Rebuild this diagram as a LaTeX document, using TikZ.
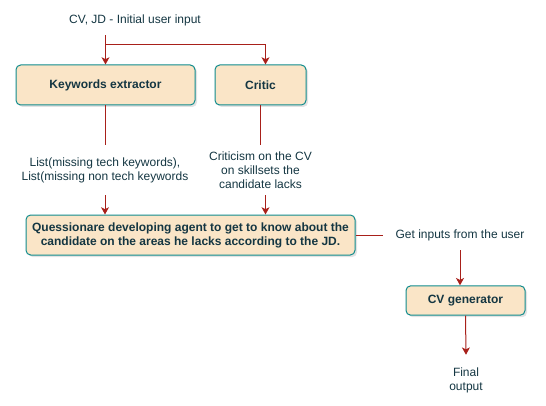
\documentclass[tikz,border=0pt]{standalone}
\usepackage{fontspec}
\setmainfont{Liberation Sans}
\usepackage{tikz}
\usetikzlibrary{
	positioning,
	arrows.meta,
	shadows
}
\definecolor{boxfill}{HTML}{FAE5C7}
\definecolor{boxline}{HTML}{0F8B8D}
\definecolor{txt}{HTML}{143642}
\definecolor{edge}{HTML}{A8201A}
\tikzset{
	agent/.style={draw=boxline, fill=boxfill, line width=0.75pt, rounded corners=3.5pt,
		font=\fontsize{9}{10.5}\selectfont\bfseries, text=txt, align=center,
		drop shadow={opacity=0.22, shadow xshift=1.5pt, shadow yshift=-1.5pt}},
	lbl/.style={font=\fontsize{9}{10.5}\selectfont, text=txt, align=center, inner sep=0pt},
	ln/.style={draw=edge, line width=0.75pt},
	arr/.style={ln, -{Stealth[width=6pt, length=5.5pt, inset=1.5pt]}}
}
\begin{document}
\begin{tikzpicture}[x=0.75pt, y=-0.75pt]
	\useasboundingbox (0,0) rectangle (546,406);

	\node[lbl, minimum height=22.5pt] (inp) at (135,20) {CV, JD - Initial user input};
	\node[agent, minimum width=134.25pt, minimum height=30pt] (kw) at (105.5,85) {Keywords extractor};
	\node[agent, minimum width=68.25pt, minimum height=30pt] (crit) at (260.5,85) {Critic};
	\node[lbl, minimum height=37.5pt] (kwlbl) at (105,170) {List(missing tech keywords),\\List(missing non tech keywords};
	\node[lbl, minimum height=37.5pt] (critlbl) at (260.5,170) {Criticism on the CV\\on skillsets the\\candidate lacks};
	\node[agent, minimum width=246.75pt, minimum height=30pt] (q) at (190.5,235)
		{Quessionare developing agent to get to know about the\\candidate on the areas he lacks according to the JD.};
	\node[lbl, minimum height=22.5pt, inner xsep=9pt] (getlbl) at (460,235) {Get inputs from the user};
	\node[agent, minimum width=89.25pt, minimum height=22pt] (cv) at (465.5,300.5) {CV generator};
	\node[lbl, minimum height=37.5pt] (fin) at (466,380) {Final\\output};

	\coordinate (br) at (105,45);
	\draw[arr] (inp.south -| kw.north) -- (kw.north);
	\draw[arr] (br) -| ([xshift=3.75pt]crit.north);
	\draw[ln] (kw.south) -- (kw.south |- kwlbl.north);
	\draw[arr] (kwlbl.south) -- (kwlbl.south |- q.north);
	\draw[ln] (crit.south) -- (crit.south |- critlbl.north);
	\draw[arr] ([xshift=3.75pt]critlbl.south) -- ([xshift=3.75pt]critlbl.south |- q.north);
	\draw[ln] (q.east) -- (getlbl.west);
	\draw[arr] (getlbl.south) -- (getlbl.south |- cv.north);
	\draw[arr] (cv.south) -- (fin.north);
\end{tikzpicture}
\end{document}
